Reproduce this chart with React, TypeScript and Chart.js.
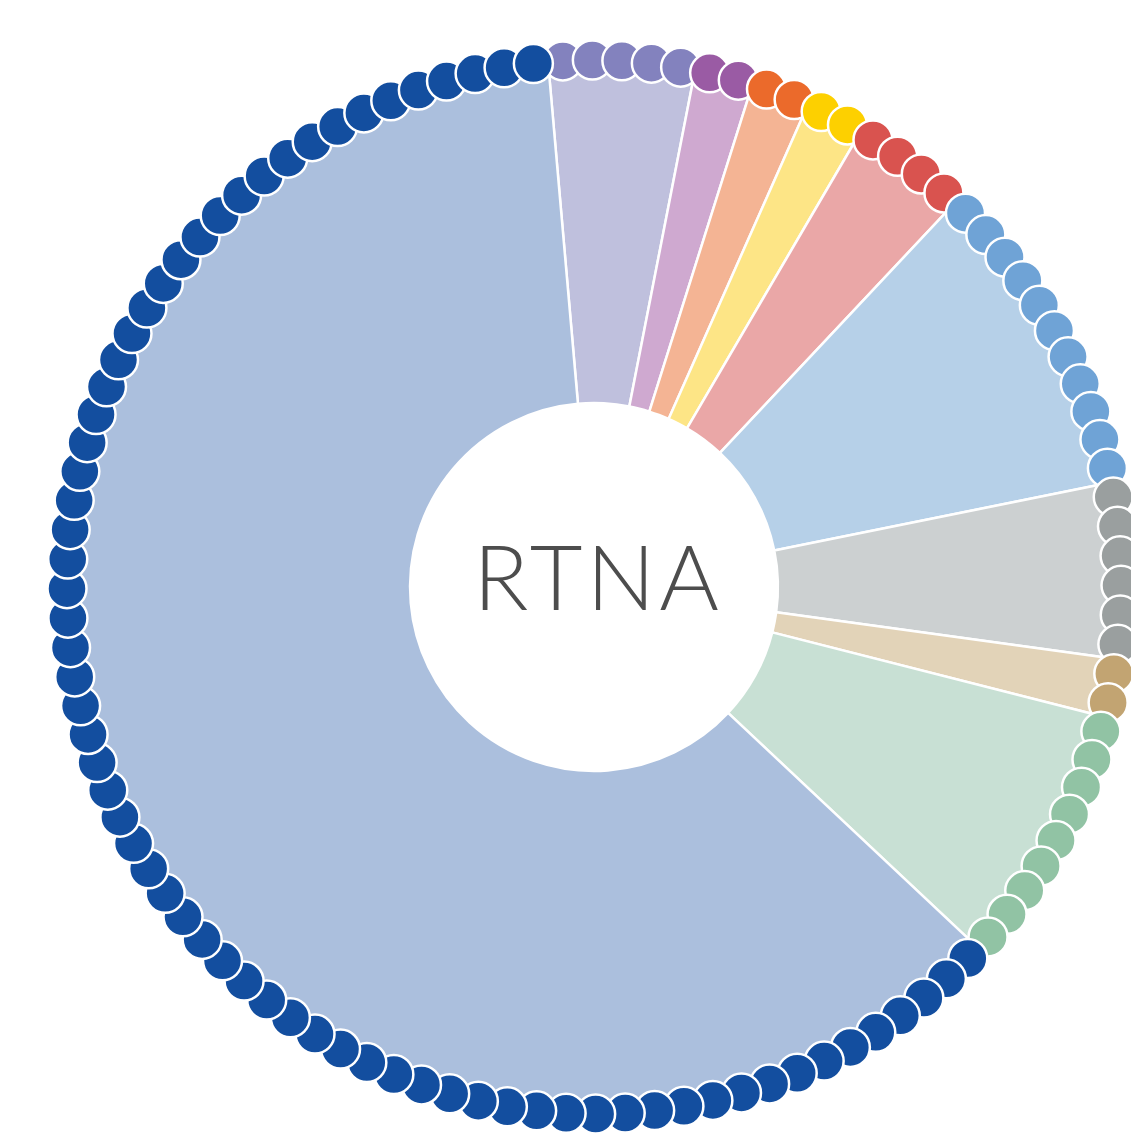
import React, { useEffect, useRef } from "react";
import { Chart, registerables } from "chart.js";

Chart.register(...registerables);

const categories = [
  "Category A",
  "Category B",
  "Category C",
  "Category D",
  "Category E",
  "Category F",
  "Category G",
  "Category H",
  "Category I",
  "Category J",
];
const counts = [5, 2, 2, 2, 4, 11, 6, 2, 9, 69];
const dotColors = [
  "#8382BE",
  "#9A5BA4",
  "#EB6A2B",
  "#FDD000",
  "#D9534F",
  "#6FA3D6",
  "#9A9F9F",
  "#C2A472",
  "#91C3A4",
  "#134E9F",
];
const wedgeColors = [
  "#BFC0DD",
  "#CFA9D0",
  "#F4B494",
  "#FDE586",
  "#EAA7A7",
  "#B6D0E8",
  "#CCD0D1",
  "#E2D3B8",
  "#C8E0D4",
  "#ABBFDD",
];
const centerLabel = "RTNA";

const dotsPlugin = {
  id: "dots",
  afterDatasetsDraw(chart: any) {
    const ctx = chart.ctx;
    const meta = chart.getDatasetMeta(0);
    const data = chart.data.datasets[0].data as number[];
    ctx.save();
    meta.data.forEach((arc: any, idx: number) => {
      const n = data[idx];
      const { startAngle, endAngle, outerRadius, x, y } = arc.getProps(
        ["startAngle", "endAngle", "outerRadius", "x", "y"],
        true
      );
      const step = (endAngle - startAngle) / n;
      for (let i = 0; i < n; i++) {
        const a = startAngle + (i + 0.5) * step;
        const cx = x + Math.cos(a) * outerRadius;
        const cy = y + Math.sin(a) * outerRadius;
        ctx.beginPath();
        ctx.arc(cx, cy, 19.5, 0, Math.PI * 2);
        ctx.fillStyle = dotColors[idx];
        ctx.fill();
        ctx.lineWidth = 2.5;
        ctx.strokeStyle = "#FFFFFF";
        ctx.stroke();
      }
    });
    ctx.restore();
  },
};

const centerTextPlugin = {
  id: "centerText",
  afterDraw(chart: any) {
    const ctx = chart.ctx;
    const arc = chart.getDatasetMeta(0).data[0];
    if (!arc) return;
    ctx.save();
    ctx.font = "300 91px Lato";
    ctx.fillStyle = "#4D4D4D";
    ctx.textAlign = "left";
    ctx.textBaseline = "alphabetic";
    (ctx as any).letterSpacing = "4px";
    const w = ctx.measureText(centerLabel).width - 4;
    ctx.fillText(centerLabel, arc.x - w / 2 + 2, arc.y + 23);
    ctx.restore();
  },
};

export default function App() {
  const ref = useRef<HTMLCanvasElement>(null);
  useEffect(() => {
    if (!ref.current) return;
    const chart = new Chart(ref.current, {
      type: "doughnut",
      data: {
        labels: categories,
        datasets: [
          {
            data: counts,
            backgroundColor: wedgeColors,
            borderColor: "#FFFFFF",
            borderWidth: 2.5,
          },
        ],
      },
      options: {
        animation: false,
        responsive: false,
        rotation: -5,
        radius: 527,
        cutout: "34.9%",
        layout: { padding: 0 },
        plugins: {
          legend: { display: false },
          tooltip: { enabled: false },
        },
      },
      plugins: [dotsPlugin, centerTextPlugin],
    });
    return () => chart.destroy();
  }, []);
  return (
    <div
      style={{
        position: "fixed",
        left: 0,
        top: 0,
        width: 1131,
        height: 1134,
        overflow: "hidden",
        background: "#FFFFFF",
      }}
    >
      <canvas
        ref={ref}
        width={1188}
        height={1174}
        style={{ display: "block", width: 1188, height: 1174 }}
      />
    </div>
  );
}
